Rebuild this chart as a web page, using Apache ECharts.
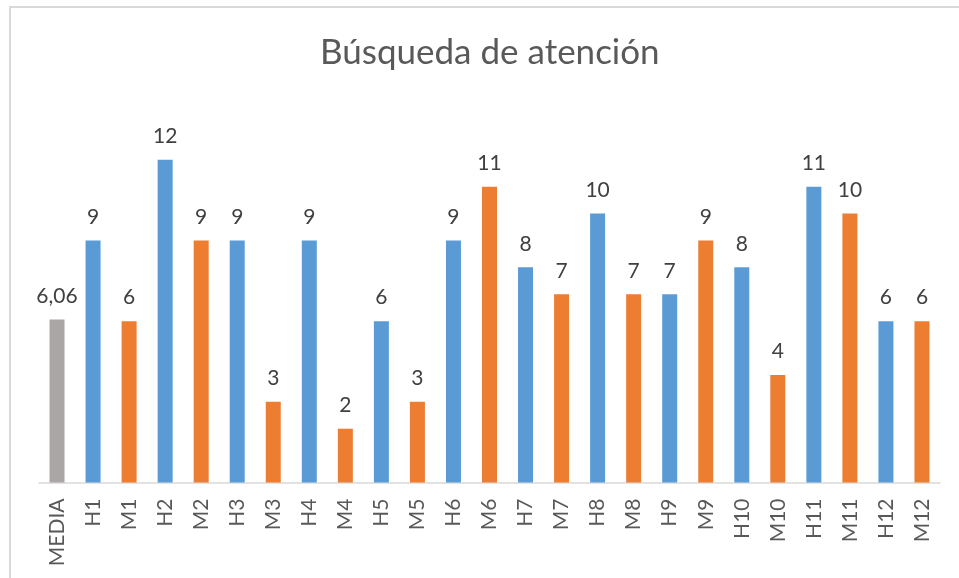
<!DOCTYPE html>
<html>
<head>
<meta charset="utf-8">
<script src="https://cdn.jsdelivr.net/npm/echarts@6/dist/echarts.min.js"></script>
<style>
  html, body { margin: 0; padding: 0; background: #fff; }
  #chart { width: 959px; height: 578px; }
</style>
</head>
<body>
<div id="chart"></div>
<script>
// values
const categories = ['MEDIA', 'H1', 'M1', 'H2', 'M2', 'H3', 'M3', 'H4', 'M4', 'H5', 'M5', 'H6', 'M6',
    'H7', 'M7', 'H8', 'M8', 'H9', 'M9', 'H10', 'M10', 'H11', 'M11', 'H12', 'M12'];
const values = [6.06, 9, 6, 12, 9, 9, 3, 9, 2, 6, 3, 9, 11, 8, 7, 10, 7, 7, 9, 8, 4, 11, 10, 6, 6];
const groupColors = { MEDIA: '#A9A6A5', H: '#5B9BD5', M: '#ED7D31' };

const colorFor = (name) => name === 'MEDIA' ? groupColors.MEDIA : groupColors[name[0]];

const chart = echarts.init(document.getElementById('chart'));
const font = 'Lato, "Open Sans", sans-serif';

chart.setOption({
    animation: false,
    // chart-area frame: only the left and top edges are inside the picture
    graphic: [{
        type: 'rect',
        shape: { x: 10, y: 7, width: 1000, height: 600 },
        style: { fill: 'none', stroke: '#d9d9d9', lineWidth: 2 },
        silent: true
    }],
    title: {
        text: 'Búsqueda de atención',
        left: 315,
        top: 30,
        textStyle: { fontFamily: font, fontSize: 35, fontWeight: 'normal', color: '#595959' }
    },
    grid: { left: 39, right: 19, top: 106, bottom: 95.5 },
    xAxis: {
        type: 'category',
        data: categories,
        axisLine: { lineStyle: { color: '#d9d9d9', width: 1.5 } },
        axisTick: { show: false },
        axisLabel: { rotate: 90, margin: 16, fontFamily: font, fontSize: 21, color: '#595959' }
    },
    yAxis: {
        type: 'value',
        min: 0,
        max: 14,
        show: false,
        splitLine: { show: false }
    },
    series: [{
        type: 'bar',
        barWidth: 15,
        data: values.map((v, i) => ({ value: v, itemStyle: { color: colorFor(categories[i]) } })),
        label: {
            show: true,
            position: 'top',
            distance: 13,
            fontFamily: font,
            fontSize: 21,
            color: '#404040',
            formatter: (p) => String(p.value).replace('.', ',')
        }
    }]
});
</script>
</body>
</html>
